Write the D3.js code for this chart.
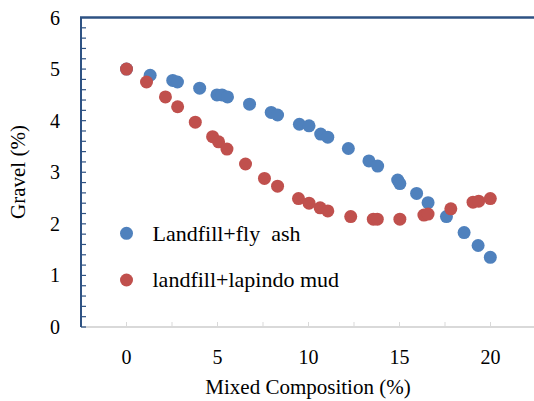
<!DOCTYPE html>
<html>
<head>
<meta charset="utf-8">
<script src="https://cdn.jsdelivr.net/npm/d3@7/dist/d3.min.js"></script>
<style>
  body { margin: 0; background: #fff; }
</style>
</head>
<body>
<div id="chart"></div>
<script>
var width = 534,
    height = 401;
var serif = 'Times New Roman';

// values
var flyAshX = [0, 1.3, 2.54, 2.8, 4.02, 4.97, 5.25, 5.55, 6.76, 7.95, 8.3, 9.5, 10.03, 10.67, 11.06, 12.19, 13.32, 13.8, 14.9, 15.02, 15.94, 16.57, 17.58, 18.55, 19.32, 19.99];
var flyAshY = [5.0, 4.88, 4.78, 4.75, 4.63, 4.50, 4.50, 4.46, 4.32, 4.16, 4.11, 3.93, 3.90, 3.74, 3.68, 3.46, 3.22, 3.12, 2.85, 2.78, 2.59, 2.41, 2.14, 1.83, 1.58, 1.35];

var mudX = [0, 1.1, 2.14, 2.81, 3.78, 4.73, 5.06, 5.52, 6.54, 7.58, 8.3, 9.45, 10.03, 10.64, 11.06, 12.32, 13.56, 13.78, 15.02, 16.34, 16.57, 17.82, 19.04, 19.35, 19.99];
var mudY = [5.0, 4.75, 4.46, 4.27, 3.97, 3.69, 3.59, 3.45, 3.16, 2.88, 2.73, 2.49, 2.40, 2.31, 2.25, 2.14, 2.09, 2.09, 2.09, 2.17, 2.19, 2.29, 2.42, 2.44, 2.49];

var xTicks = [0, 5, 10, 15, 20];
var yTicks = [0, 1, 2, 3, 4, 5, 6];
var seriesNames = ["Landfill+fly\u00a0\u00a0ash", "landfill+lapindo mud"];
var seriesColors = ["#4F81BD", "#C0504D"];

var margin = { top: 17.5, right: -2, bottom: 74, left: 81 };

var x = d3.scaleLinear().domain([-2.5, 22.5]).range([margin.left, width - margin.right]);
var y = d3.scaleLinear().domain([0, 6]).range([height - margin.bottom, margin.top]);

var svg = d3.select('#chart')
    .append('svg')
    .attr('width', width)
    .attr('height', height);

function tr(px, py) { return 'translate(' + px + ',' + py + ')'; }

// x axis: light gray, ticks inside every 2.5
svg.append('g')
    .selectAll('line')
    .data(d3.range(-2.5, 22.6, 2.5))
    .enter()
    .append('line')
    .attr('x1', d => x(d)).attr('x2', d => x(d))
    .attr('y1', y(0)).attr('y2', y(0) - 5)
    .attr('stroke', '#d9d9d9')
    .attr('stroke-width', 1);

svg.append('line')
    .attr('x1', x(-2.5)).attr('x2', width)
    .attr('y1', y(0)).attr('y2', y(0))
    .attr('stroke', '#d9d9d9')
    .attr('stroke-width', 2);

svg.append('g')
    .selectAll('text')
    .data(xTicks)
    .enter()
    .append('text')
    .attr('transform', d => tr(x(d), 364))
    .attr('text-anchor', 'middle')
    .attr('font-family', serif)
    .attr('font-size', 20)
    .text(d => d);

// y axis: dark blue, minor ticks inside every 0.2
svg.append('g')
    .selectAll('line')
    .data(d3.range(0, 30))
    .enter()
    .append('line')
    .attr('x1', x(-2.5)).attr('x2', x(-2.5) + 5)
    .attr('y1', d => y(d * 0.2)).attr('y2', d => y(d * 0.2))
    .attr('stroke', '#2E5283')
    .attr('stroke-width', 1.2);

svg.append('line')
    .attr('x1', x(-2.5)).attr('x2', x(-2.5))
    .attr('y1', y(0)).attr('y2', y(6))
    .attr('stroke', '#2E5283')
    .attr('stroke-width', 2);

svg.append('line')
    .attr('x1', x(-2.5) - 1).attr('x2', width)
    .attr('y1', y(6)).attr('y2', y(6))
    .attr('stroke', '#2E5283')
    .attr('stroke-width', 2.5);

svg.append('g')
    .selectAll('text')
    .data(yTicks)
    .enter()
    .append('text')
    .attr('transform', d => tr(60, y(d) + 7))
    .attr('text-anchor', 'end')
    .attr('font-family', serif)
    .attr('font-size', 20)
    .text(d => d);

// titles
svg.append('text')
    .attr('transform', tr(308, 394))
    .attr('text-anchor', 'middle')
    .attr('font-family', serif)
    .attr('font-size', 21)
    .text('Mixed Composition (%)');

svg.append('text')
    .attr('transform', tr(25, 172) + ' rotate(-90)')
    .attr('text-anchor', 'middle')
    .attr('font-family', serif)
    .attr('font-size', 21)
    .text('Gravel (%)');

// points
var series = [
    { xs: flyAshX, ys: flyAshY },
    { xs: mudX, ys: mudY }
];

series.forEach(function (s, k) {
    svg.append('g')
        .selectAll('circle')
        .data(s.xs)
        .enter()
        .append('circle')
        .attr('cx', d => x(d))
        .attr('cy', (d, i) => y(s.ys[i]))
        .attr('r', 6.5)
        .attr('fill', seriesColors[k]);
});

// legend
var legend = svg.append('g');
seriesNames.forEach(function (name, k) {
    legend.append('circle')
        .attr('cx', 126.5)
        .attr('cy', 233.3 + k * 46.7)
        .attr('r', 6.5)
        .attr('fill', seriesColors[k]);
    legend.append('text')
        .attr('transform', tr(152.5, 241 + k * 46))
        .attr('font-family', serif)
        .attr('font-size', 22)
        .text(name);
});
</script>
</body>
</html>
